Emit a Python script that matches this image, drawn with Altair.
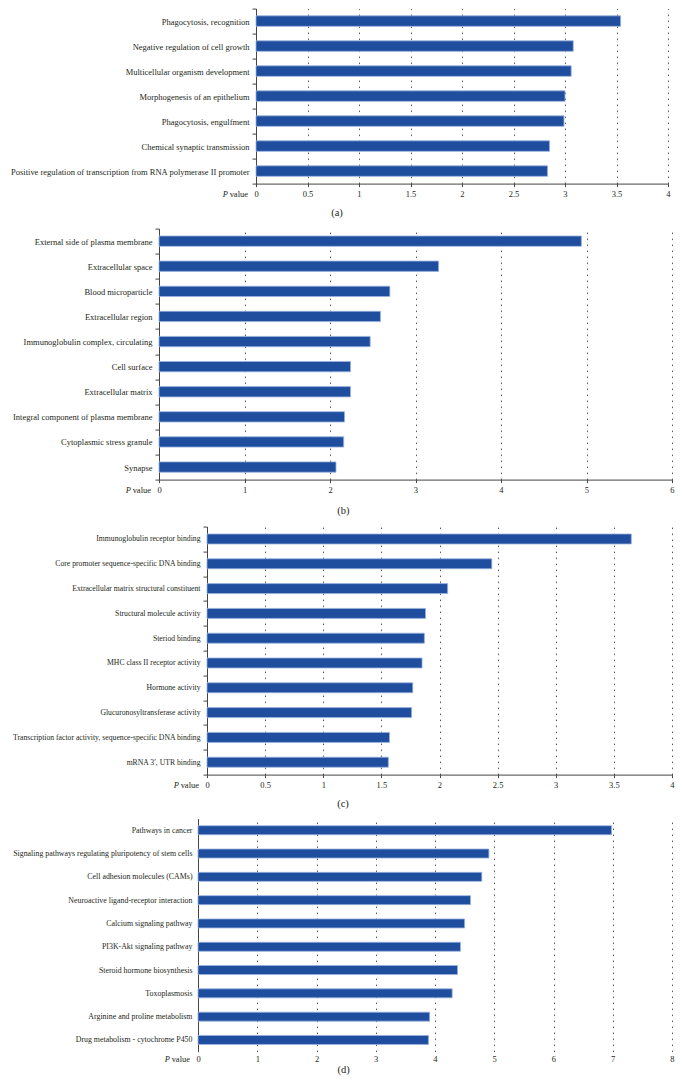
import altair as alt
import pandas as pd

FONT = "Liberation Serif"
BAR_FILL = "#1f4e9f"
BAR_EDGE = "#9bb3de"
AXIS_COLOR = "#444444"
GRID_COLOR = "#555555"
TEXT_COLOR = "#231f20"

# ---- (a) biological process ----
a_terms = [
    "Phagocytosis, recognition",
    "Negative regulation of cell growth",
    "Multicellular organism development",
    "Morphogenesis of an epithelium",
    "Phagocytosis, engulfment",
    "Chemical synaptic transmission",
    "Positive regulation of transcription from RNA polymerase II promoter",
]
a_values = [3.54, 3.08, 3.06, 3.00, 2.99, 2.85, 2.83]
a_ticks = [0, 0.5, 1, 1.5, 2, 2.5, 3, 3.5, 4]

# ---- (b) cellular component ----
b_terms = [
    "External side of plasma membrane",
    "Extracellular space",
    "Blood microparticle",
    "Extracellular region",
    "Immunoglobulin complex, circulating",
    "Cell surface",
    "Extracellular matrix",
    "Integral component of plasma membrane",
    "Cytoplasmic stress granule",
    "Synapse",
]
b_values = [4.94, 3.27, 2.70, 2.59, 2.47, 2.24, 2.24, 2.17, 2.16, 2.07]
b_ticks = [0, 1, 2, 3, 4, 5, 6]

# ---- (c) molecular function ----
c_terms = [
    "Immunoglobulin receptor binding",
    "Core promoter sequence-specific DNA binding",
    "Extracellular matrix structural constituent",
    "Structural molecule activity",
    "Steriod binding",
    "MHC class II receptor activity",
    "Hormone activity",
    "Glucuronosyltransferase activity",
    "Transcription factor activity, sequence-specific DNA binding",
    "mRNA 3\u2032, UTR binding",
]
c_values = [3.65, 2.45, 2.07, 1.88, 1.87, 1.85, 1.77, 1.76, 1.57, 1.56]
c_ticks = [0, 0.5, 1, 1.5, 2, 2.5, 3, 3.5, 4]

# ---- (d) KEGG pathways ----
d_terms = [
    "Pathways in cancer",
    "Signaling pathways regulating pluripotency of stem cells",
    "Cell adhesion molecules (CAMs)",
    "Neuroactive ligand-receptor interaction",
    "Calcium signaling pathway",
    "PI3K-Akt signaling pathway",
    "Steroid hormone biosynthesis",
    "Toxoplasmosis",
    "Arginine and proline metabolism",
    "Drug metabolism - cytochrome P450",
]
d_values = [6.98, 4.91, 4.79, 4.60, 4.50, 4.43, 4.38, 4.29, 3.91, 3.89]
d_ticks = [0, 1, 2, 3, 4, 5, 6, 7, 8]

captions = ["(a)", "(b)", "(c)", "(d)"]


def text_layer(text, x, y, size=8.5, align="right", style="normal"):
    return alt.Chart(pd.DataFrame({"t": [text]})).mark_text(
        align=align, baseline="middle", font=FONT, fontSize=size,
        fontStyle=style, color=TEXT_COLOR
    ).encode(text="t:N", x=alt.value(x), y=alt.value(y))


def panel(terms, values, ticks, width, height, label_extent, bar_size,
          caption, caption_x, caption_dy, bottom_pad, label_size,
          framed=True):
    df = pd.DataFrame({"term": terms, "value": values})
    y_axis = alt.Axis(
        title=None, domain=True, domainColor=AXIS_COLOR, domainWidth=1,
        ticks=framed, tickBand="extent", tickSize=4 if framed else 0,
        tickColor=AXIS_COLOR, labelPadding=3 if framed else 6,
        labelFont=FONT, labelFontSize=label_size, labelColor=TEXT_COLOR,
        labelLimit=400, minExtent=label_extent, grid=False,
    )
    x_axis = alt.Axis(
        title=None, values=ticks, format="~g", domain=framed,
        domainColor=AXIS_COLOR, domainWidth=1, ticks=framed,
        tickSize=3 if framed else 0, tickColor=AXIS_COLOR,
        labelBaseline="middle", labelPadding=7, labelFlush=False,
        labelOverlap=False, labelFont=FONT, labelFontSize=8.5,
        labelColor=TEXT_COLOR, grid=True, gridColor=GRID_COLOR,
        gridDash=[1.5, 4.5], gridWidth=1,
    )
    bars = alt.Chart(df).mark_bar(
        size=bar_size, fill=BAR_FILL, stroke=BAR_EDGE, strokeWidth=0.8
    ).encode(
        x=alt.X("value:Q", scale=alt.Scale(domain=[ticks[0], ticks[-1]], nice=False),
                axis=x_axis),
        y=alt.Y("term:N", sort=terms, axis=y_axis,
                scale=alt.Scale(paddingInner=0, paddingOuter=0)),
    )
    label_y = height + (10 if framed else 7)
    p_lab = text_layer("P", -28, label_y, style="italic")
    v_lab = text_layer("value", -8, label_y)
    cap = text_layer(caption, caption_x, height + caption_dy, size=10.5, align="center")
    layers = [bars, p_lab, v_lab, cap]
    if bottom_pad:
        layers.append(alt.Chart(pd.DataFrame({"t": [0]})).mark_rule(
            strokeWidth=0, opacity=0
        ).encode(x=alt.value(0), x2=alt.value(1), y=alt.value(height + bottom_pad)))
    layer = alt.layer(*layers).properties(width=width, height=height)
    spacer = alt.Chart(pd.DataFrame({"t": [0]})).mark_rule(
        strokeWidth=0, opacity=0
    ).encode(x=alt.value(0), x2=alt.value(1), y=alt.value(1)).properties(width=1, height=1)
    return alt.hconcat(spacer, layer, spacing=0)


row_a = panel(a_terms, a_values, a_ticks, 412, 175, 247, 10.5,
              captions[0], 81, 29.4, 40.5, 8.5)
row_b = panel(b_terms, b_values, b_ticks, 513, 251, 150, 10.3,
              captions[1], 184.4, 31, 42.4, 8.5)
row_c = panel(c_terms, c_values, c_ticks, 465, 248, 198, 10,
              captions[2], 136, 29.7, 39.2, 7.7)
row_d = panel(d_terms, d_values, d_ticks, 474, 233, 189, 9,
              captions[3], 145.7, 18, 0, 7.9, framed=False)

chart = alt.vconcat(row_a, row_b, row_c, row_d, spacing=0).properties(
    padding={"left": 0, "right": 0, "top": -3.4, "bottom": 0}
).configure_view(strokeWidth=0)

chart.save("out.html", embed_options={"renderer": "svg", "actions": False})
